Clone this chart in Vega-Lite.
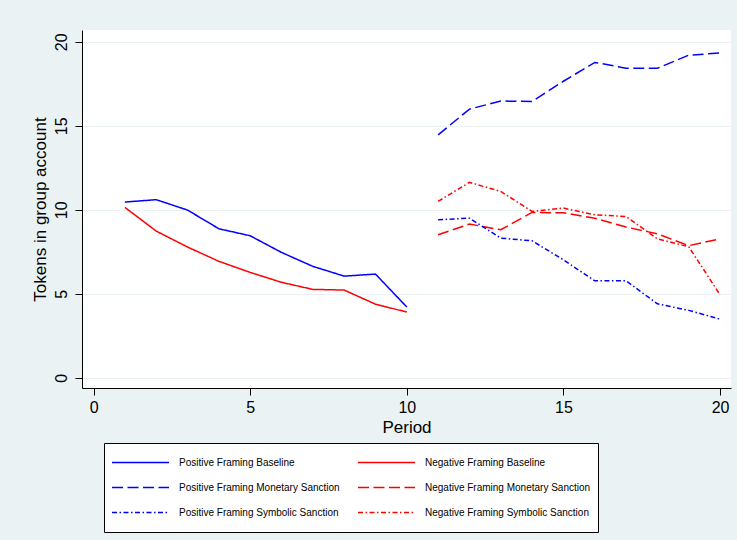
{
  "$schema": "https://vega.github.io/schema/vega-lite/v6.json",
  "autosize": {"type": "none"},
  "width": 649,
  "height": 358,
  "padding": {"left": 82, "top": 30, "right": 6, "bottom": 152},
  "background": "#EAF2F3",
  "config": {
    "view": {"fill": "white", "stroke": null},
    "font": "Liberation Sans",
    "axis": {"labelFont": "Liberation Sans", "titleFont": "Liberation Sans", "labelColor": "black", "titleColor": "black", "domainColor": "black", "tickColor": "black", "labelFontSize": 16, "titleFontSize": 17, "titleFontWeight": "normal", "tickSize": 7, "domainWidth": 1, "tickWidth": 1}
  },
  "data": {"values": [
    {"period": 1, "value": 10.46, "series": "Positive Framing Baseline"},
    {"period": 2, "value": 10.6, "series": "Positive Framing Baseline"},
    {"period": 3, "value": 9.98, "series": "Positive Framing Baseline"},
    {"period": 4, "value": 8.87, "series": "Positive Framing Baseline"},
    {"period": 5, "value": 8.45, "series": "Positive Framing Baseline"},
    {"period": 6, "value": 7.46, "series": "Positive Framing Baseline"},
    {"period": 7, "value": 6.63, "series": "Positive Framing Baseline"},
    {"period": 8, "value": 6.05, "series": "Positive Framing Baseline"},
    {"period": 9, "value": 6.17, "series": "Positive Framing Baseline"},
    {"period": 10, "value": 4.21, "series": "Positive Framing Baseline"},
    {"period": 1, "value": 10.14, "series": "Negative Framing Baseline"},
    {"period": 2, "value": 8.73, "series": "Negative Framing Baseline"},
    {"period": 3, "value": 7.78, "series": "Negative Framing Baseline"},
    {"period": 4, "value": 6.93, "series": "Negative Framing Baseline"},
    {"period": 5, "value": 6.27, "series": "Negative Framing Baseline"},
    {"period": 6, "value": 5.68, "series": "Negative Framing Baseline"},
    {"period": 7, "value": 5.26, "series": "Negative Framing Baseline"},
    {"period": 8, "value": 5.22, "series": "Negative Framing Baseline"},
    {"period": 9, "value": 4.38, "series": "Negative Framing Baseline"},
    {"period": 10, "value": 3.91, "series": "Negative Framing Baseline"},
    {"period": 11, "value": 14.46, "series": "Positive Framing Monetary Sanction"},
    {"period": 12, "value": 15.99, "series": "Positive Framing Monetary Sanction"},
    {"period": 13, "value": 16.47, "series": "Positive Framing Monetary Sanction"},
    {"period": 14, "value": 16.45, "series": "Positive Framing Monetary Sanction"},
    {"period": 15, "value": 17.65, "series": "Positive Framing Monetary Sanction"},
    {"period": 16, "value": 18.77, "series": "Positive Framing Monetary Sanction"},
    {"period": 17, "value": 18.43, "series": "Positive Framing Monetary Sanction"},
    {"period": 18, "value": 18.42, "series": "Positive Framing Monetary Sanction"},
    {"period": 19, "value": 19.2, "series": "Positive Framing Monetary Sanction"},
    {"period": 20, "value": 19.33, "series": "Positive Framing Monetary Sanction"},
    {"period": 11, "value": 8.51, "series": "Negative Framing Monetary Sanction"},
    {"period": 12, "value": 9.15, "series": "Negative Framing Monetary Sanction"},
    {"period": 13, "value": 8.81, "series": "Negative Framing Monetary Sanction"},
    {"period": 14, "value": 9.84, "series": "Negative Framing Monetary Sanction"},
    {"period": 15, "value": 9.82, "series": "Negative Framing Monetary Sanction"},
    {"period": 16, "value": 9.5, "series": "Negative Framing Monetary Sanction"},
    {"period": 17, "value": 8.97, "series": "Negative Framing Monetary Sanction"},
    {"period": 18, "value": 8.57, "series": "Negative Framing Monetary Sanction"},
    {"period": 19, "value": 7.86, "series": "Negative Framing Monetary Sanction"},
    {"period": 20, "value": 8.27, "series": "Negative Framing Monetary Sanction"},
    {"period": 11, "value": 9.4, "series": "Positive Framing Symbolic Sanction"},
    {"period": 12, "value": 9.5, "series": "Positive Framing Symbolic Sanction"},
    {"period": 13, "value": 8.31, "series": "Positive Framing Symbolic Sanction"},
    {"period": 14, "value": 8.15, "series": "Positive Framing Symbolic Sanction"},
    {"period": 15, "value": 7.02, "series": "Positive Framing Symbolic Sanction"},
    {"period": 16, "value": 5.77, "series": "Positive Framing Symbolic Sanction"},
    {"period": 17, "value": 5.77, "series": "Positive Framing Symbolic Sanction"},
    {"period": 18, "value": 4.4, "series": "Positive Framing Symbolic Sanction"},
    {"period": 19, "value": 4.01, "series": "Positive Framing Symbolic Sanction"},
    {"period": 20, "value": 3.49, "series": "Positive Framing Symbolic Sanction"},
    {"period": 11, "value": 10.5, "series": "Negative Framing Symbolic Sanction"},
    {"period": 12, "value": 11.63, "series": "Negative Framing Symbolic Sanction"},
    {"period": 13, "value": 11.09, "series": "Negative Framing Symbolic Sanction"},
    {"period": 14, "value": 9.9, "series": "Negative Framing Symbolic Sanction"},
    {"period": 15, "value": 10.1, "series": "Negative Framing Symbolic Sanction"},
    {"period": 16, "value": 9.7, "series": "Negative Framing Symbolic Sanction"},
    {"period": 17, "value": 9.6, "series": "Negative Framing Symbolic Sanction"},
    {"period": 18, "value": 8.27, "series": "Negative Framing Symbolic Sanction"},
    {"period": 19, "value": 7.8, "series": "Negative Framing Symbolic Sanction"},
    {"period": 20, "value": 4.94, "series": "Negative Framing Symbolic Sanction"}
  ]},
  "mark": {"type": "line", "strokeWidth": 1.5},
  "encoding": {
    "x": {"field": "period", "type": "quantitative", "title": "Period",
      "scale": {"domain": [-0.37, 20.35], "nice": false, "zero": false},
      "axis": {"values": [0, 5, 10, 15, 20], "grid": false, "labelPadding": 4, "titlePadding": 4, "labelFlush": false}},
    "y": {"field": "value", "type": "quantitative", "title": "Tokens in group account",
      "scale": {"domain": [-0.61, 20.7], "nice": false, "zero": false},
      "axis": {"values": [0, 5, 10, 15, 20], "grid": true, "gridColor": "#EAF2F3", "gridWidth": 1, "labelAngle": -90, "labelPadding": 6, "titlePadding": 4, "labelFlush": false}},
    "color": {"field": "series", "type": "nominal", "title": null,
      "scale": {"domain": ["Positive Framing Baseline", "Positive Framing Monetary Sanction", "Positive Framing Symbolic Sanction", "Negative Framing Baseline", "Negative Framing Monetary Sanction", "Negative Framing Symbolic Sanction"],
        "range": ["#0000ff", "#0000ff", "#0000ff", "#ff0000", "#ff0000", "#ff0000"]},
      "legend": {"orient": "none", "legendX": 22, "legendY": 413, "columns": 2, "columnPadding": 17, "rowPadding": 0, "clipHeight": 25, "symbolType": "stroke", "symbolSize": 3249, "symbolStrokeWidth": 1.5, "labelFont": "Liberation Sans", "labelFontSize": 10, "labelColor": "black", "labelLimit": 400, "labelOffset": 9, "fillColor": "white", "strokeColor": "black", "padding": 7}},
    "strokeDash": {"field": "series", "type": "nominal", "title": null,
      "scale": {"domain": ["Positive Framing Baseline", "Positive Framing Monetary Sanction", "Positive Framing Symbolic Sanction", "Negative Framing Baseline", "Negative Framing Monetary Sanction", "Negative Framing Symbolic Sanction"],
        "range": [[1, 0], [11, 4.5], [5, 2.5, 1.5, 2.5], [1, 0], [11, 4.5], [5, 2.5, 1.5, 2.5]]}}
  }
}
